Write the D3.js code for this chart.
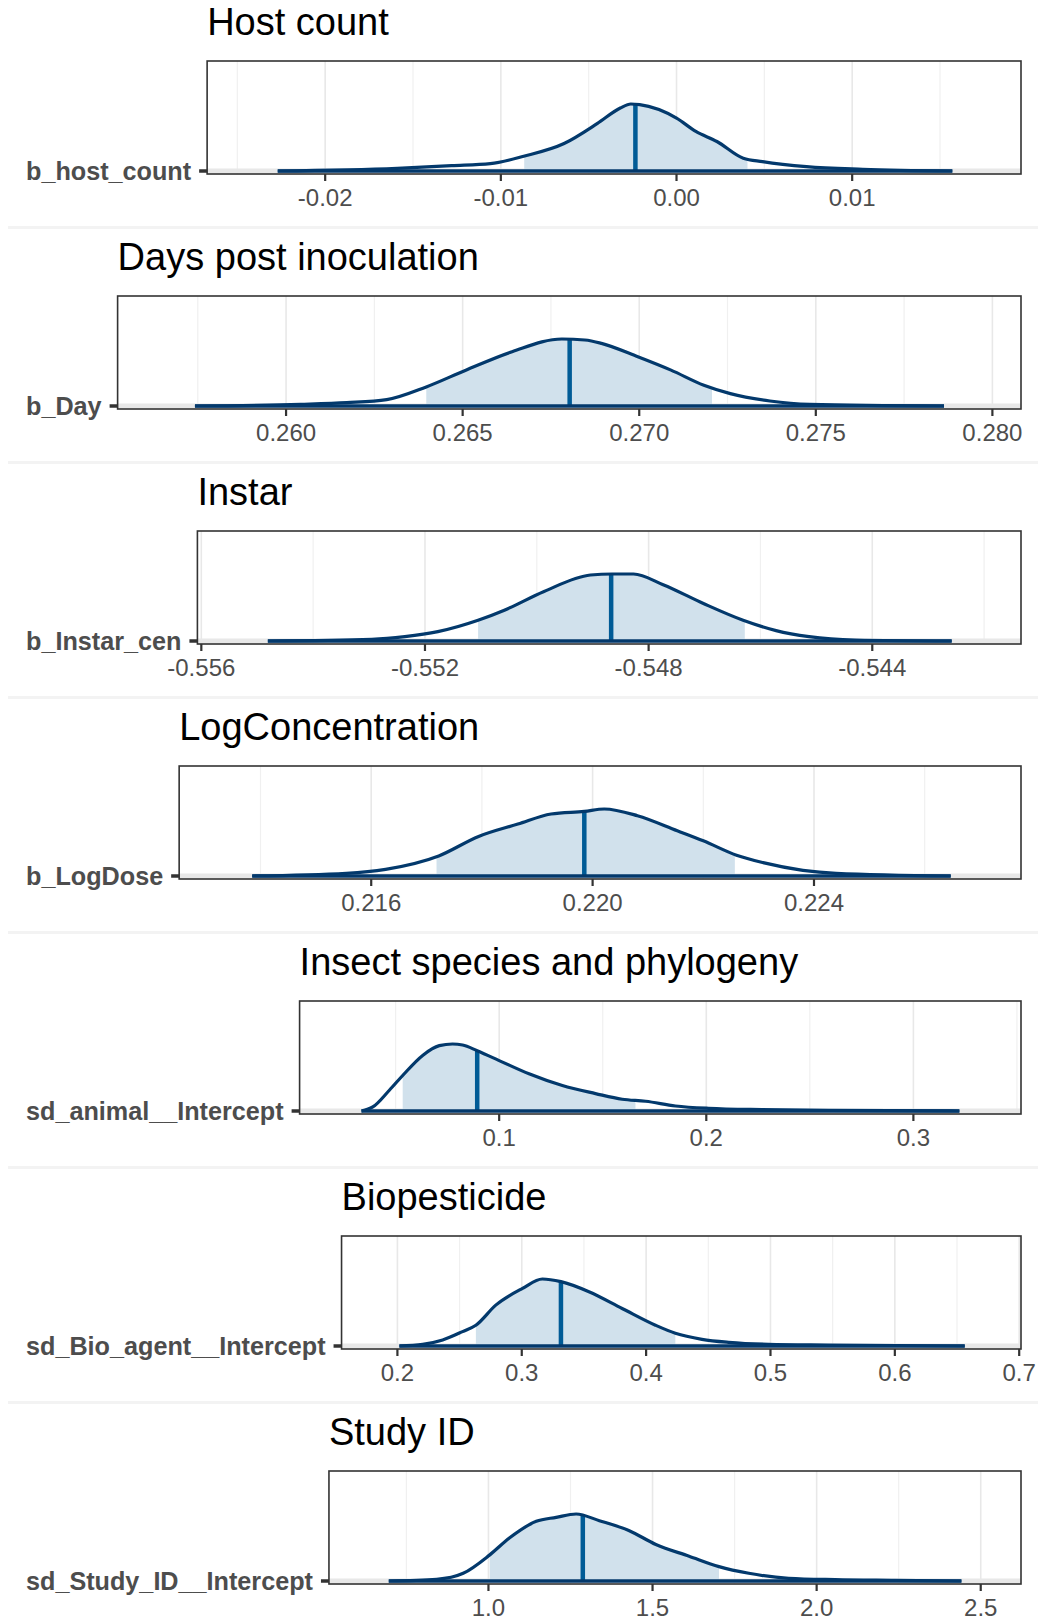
<!DOCTYPE html>
<html>
<head>
<meta charset="utf-8">
<title>Posterior areas</title>
<script src="https://cdn.jsdelivr.net/npm/d3@7"></script>
<style>
  body { margin: 0; background: #fff; }
  svg { display: block; font-family: "Liberation Sans", Arial, sans-serif; }
</style>
</head>
<body>
<div id="chart"></div>
<script>
    // one panel per model term
    var titles = ["Host count", "Days post inoculation", "Instar", "LogConcentration",
        "Insect species and phylogeny", "Biopesticide", "Study ID"];
    var params = ["b_host_count", "b_Day", "b_Instar_cen", "b_LogDose",
        "sd_animal__Intercept", "sd_Bio_agent__Intercept", "sd_Study_ID__Intercept"];

    // x axis limits, ticks and minor grid, per panel
    var limits = [[-0.02672, 0.01961], [0.25523, 0.28081], [-0.55607, -0.54134], [0.21253, 0.22774],
        [0.00363, 0.35196], [0.15508, 0.70145], [0.514, 2.6227]];
    var ticks = [[-0.02, -0.01, 0, 0.01], [0.26, 0.265, 0.27, 0.275, 0.28], [-0.556, -0.552, -0.548, -0.544],
        [0.216, 0.22, 0.224], [0.1, 0.2, 0.3], [0.2, 0.3, 0.4, 0.5, 0.6, 0.7], [1.0, 1.5, 2.0, 2.5]];
    var minorTicks = [[-0.025, -0.015, -0.005, 0.005, 0.015], [0.2575, 0.2625, 0.2675, 0.2725, 0.2775],
        [-0.554, -0.55, -0.546, -0.542], [0.214, 0.218, 0.222, 0.226], [0.05, 0.15, 0.25, 0.35],
        [0.25, 0.35, 0.45, 0.55, 0.65], [0.75, 1.25, 1.75, 2.25]];
    var tickFormats = [".2f", ".3f", ".3f", ".3f", ".1f", ".1f", ".1f"];

    // shaded interval and median
    var intervals = [[-0.00867, 0.00404], [0.26397, 0.27206], [-0.55105, -0.54628], [0.21718, 0.22257],
        [0.05341, 0.16581], [0.2631, 0.4235], [1.004, 1.7024]];
    var medians = [-0.00234, 0.26803, -0.54867, 0.21985, 0.08939, 0.3315, 1.2875];

    // density curves: [value, relative height]
    var densHost = [[-0.0227, 0], [-0.0159, 0.04], [-0.0128, 0.08], [-0.0106, 0.11], [-0.0087, 0.22],
        [-0.0064, 0.41], [-0.0045, 0.71], [-0.0032, 0.94], [-0.0026, 1], [-0.0021, 0.99], [0, 0.79],
        [0.0011, 0.59], [0.0023, 0.44], [0.0038, 0.19], [0.0049, 0.14], [0.0074, 0.065], [0.0106, 0.025],
        [0.0157, 0]];
    var densDay = [[0.25742, 0], [0.26041, 0.025], [0.26172, 0.05], [0.26285, 0.095], [0.26397, 0.285],
        [0.26509, 0.535], [0.2664, 0.81], [0.26781, 1], [0.26846, 0.985], [0.26893, 0.935], [0.26996, 0.735],
        [0.2709, 0.535], [0.27183, 0.31], [0.27258, 0.185], [0.2737, 0.075], [0.27483, 0.025], [0.27863, 0]];
    var densInstar = [[-0.55481, 0], [-0.55295, 0.025], [-0.55236, 0.065], [-0.55177, 0.14], [-0.55105, 0.31],
        [-0.55058, 0.46], [-0.54987, 0.74], [-0.54904, 0.985], [-0.54865, 1], [-0.54827, 1], [-0.54774, 0.84],
        [-0.54702, 0.56], [-0.54631, 0.31], [-0.54572, 0.155], [-0.54513, 0.065], [-0.5443, 0.015], [-0.54258, 0]];
    var densDose = [[0.21385, 0], [0.21555, 0.04], [0.21626, 0.1], [0.21722, 0.3], [0.21794, 0.59],
        [0.21865, 0.775], [0.21925, 0.925], [0.21985, 0.965], [0.22021, 1], [0.22081, 0.9], [0.22153, 0.675],
        [0.222, 0.525], [0.2226, 0.31], [0.22308, 0.2], [0.2238, 0.085], [0.2244, 0.04], [0.22647, 0]];
    var densAnimal = [[0.03351, 0], [0.03898, 0.06], [0.04697, 0.31], [0.05341, 0.53], [0.06305, 0.83],
        [0.07109, 0.975], [0.07748, 1], [0.08232, 0.985], [0.08939, 0.9], [0.1016, 0.73], [0.1144, 0.555],
        [0.1305, 0.38], [0.1465, 0.26], [0.1594, 0.175], [0.1707, 0.145], [0.1851, 0.075], [0.2011, 0.04],
        [0.2268, 0.02], [0.2589, 0.01], [0.3222, 0]];
    var densAgent = [[0.2016, 0], [0.2203, 0.025], [0.2364, 0.09], [0.2524, 0.215], [0.2631, 0.31],
        [0.2791, 0.61], [0.3006, 0.86], [0.3166, 1], [0.3315, 0.96], [0.354, 0.81], [0.3807, 0.56],
        [0.4075, 0.31], [0.4235, 0.19], [0.4449, 0.1], [0.4663, 0.055], [0.4984, 0.025], [0.5465, 0.015],
        [0.6562, 0]];
    var densStudy = [[0.6963, 0], [0.8422, 0.025], [0.9231, 0.115], [1.004, 0.39], [1.0647, 0.645],
        [1.1456, 0.89], [1.2064, 0.95], [1.2671, 1], [1.3379, 0.9], [1.4292, 0.75], [1.5101, 0.545],
        [1.6114, 0.37], [1.7024, 0.215], [1.7933, 0.115], [1.9148, 0.04], [2.0565, 0.02], [2.2387, 0.01],
        [2.4411, 0]];
    var densities = [densHost, densDay, densInstar, densDose, densAnimal, densAgent, densStudy];

    var width = 1038, height = 1622;
    var right = 1021, labelLeft = 25, gap = 17;
    var top0 = 61, step = 235, boxH = 113, baseOff = 110, peakH = 67;

    var svg = d3.select('#chart').append('svg').attr('width', width).attr('height', height);
    var defs = svg.append('defs');

    params.forEach(function (p, i) {
        var top = top0 + i * step,
            bottom = top + boxH,
            base = top + baseOff;
        var g = svg.append('g');

        // faint strip between the stacked plots
        if (i < params.length - 1) {
            g.append('rect').attr('x', 8).attr('y', top + 165).attr('width', width - 8).attr('height', 3)
                .attr('fill', '#f3f3f3');
        }

        var label = g.append('text')
            .attr('text-anchor', 'end')
            .attr('font-size', 25.2)
            .attr('font-weight', 'bold')
            .attr('fill', '#4d4d4d')
            .text(p);
        var left = labelLeft + label.node().getComputedTextLength() + gap;
        label.attr('x', left - gap + 1).attr('y', base + 8.5);

        var x = d3.scaleLinear().domain(limits[i]).range([left, right]);

        g.append('text')
            .attr('x', left)
            .attr('y', top - 26.5)
            .attr('font-size', 38)
            .attr('fill', '#000')
            .text(titles[i]);

        // grid
        g.selectAll('.minor').data(minorTicks[i]).enter().append('line')
            .attr('x1', function (d) { return x(d); }).attr('x2', function (d) { return x(d); })
            .attr('y1', top).attr('y2', bottom)
            .attr('stroke', '#f0f0f0').attr('stroke-width', 1.2);
        g.selectAll('.major').data(ticks[i]).enter().append('line')
            .attr('x1', function (d) { return x(d); }).attr('x2', function (d) { return x(d); })
            .attr('y1', top).attr('y2', bottom)
            .attr('stroke', '#e8e8e8').attr('stroke-width', 1.6);
        g.append('line').attr('x1', left).attr('x2', right).attr('y1', base).attr('y2', base)
            .attr('stroke', '#e8e8e8').attr('stroke-width', 5);

        var dens = densities[i];
        var area = d3.area()
            .x(function (d) { return x(d[0]); })
            .y0(base)
            .y1(function (d) { return base - d[1] * peakH; })
            .curve(d3.curveMonotoneX);
        var line = d3.line()
            .x(function (d) { return x(d[0]); })
            .y(function (d) { return base - d[1] * peakH; })
            .curve(d3.curveMonotoneX);

        defs.append('clipPath').attr('id', 'iv' + i).append('rect')
            .attr('x', x(intervals[i][0])).attr('y', top)
            .attr('width', x(intervals[i][1]) - x(intervals[i][0])).attr('height', boxH);
        defs.append('clipPath').attr('id', 'ar' + i).append('path').attr('d', area(dens));

        g.append('path').attr('d', area(dens)).attr('fill', '#d1e1ec')
            .attr('clip-path', 'url(#iv' + i + ')');

        g.append('line')
            .attr('x1', x(medians[i])).attr('x2', x(medians[i]))
            .attr('y1', base).attr('y2', top)
            .attr('stroke', '#005b96').attr('stroke-width', 4.5)
            .attr('clip-path', 'url(#ar' + i + ')');

        g.append('path').attr('d', line(dens)).attr('fill', 'none')
            .attr('stroke', '#03396c').attr('stroke-width', 3.2).attr('stroke-linejoin', 'round');
        g.append('line')
            .attr('x1', x(dens[0][0])).attr('x2', x(dens[dens.length - 1][0]))
            .attr('y1', base).attr('y2', base)
            .attr('stroke', '#03396c').attr('stroke-width', 3.4);

        // panel border
        g.append('rect').attr('x', left).attr('y', top).attr('width', right - left).attr('height', boxH)
            .attr('fill', 'none').attr('stroke', '#333').attr('stroke-width', 1.6);

        // y tick
        g.append('line').attr('x1', left - 8).attr('x2', left).attr('y1', base).attr('y2', base)
            .attr('stroke', '#333').attr('stroke-width', 3.5);

        // x ticks and labels
        var fmt = d3.format(tickFormats[i]);
        g.selectAll('.tick').data(ticks[i]).enter().append('line')
            .attr('x1', function (d) { return x(d); }).attr('x2', function (d) { return x(d); })
            .attr('y1', bottom).attr('y2', bottom + 7)
            .attr('stroke', '#333').attr('stroke-width', 2.2);
        g.selectAll('.tlab').data(ticks[i]).enter().append('text')
            .attr('x', function (d) { return x(d); })
            .attr('y', bottom + 32)
            .attr('text-anchor', 'middle')
            .attr('font-size', 24)
            .attr('fill', '#4d4d4d')
            .text(function (d) { return fmt(d).replace('−', '-'); });
    });
</script>
</body>
</html>
